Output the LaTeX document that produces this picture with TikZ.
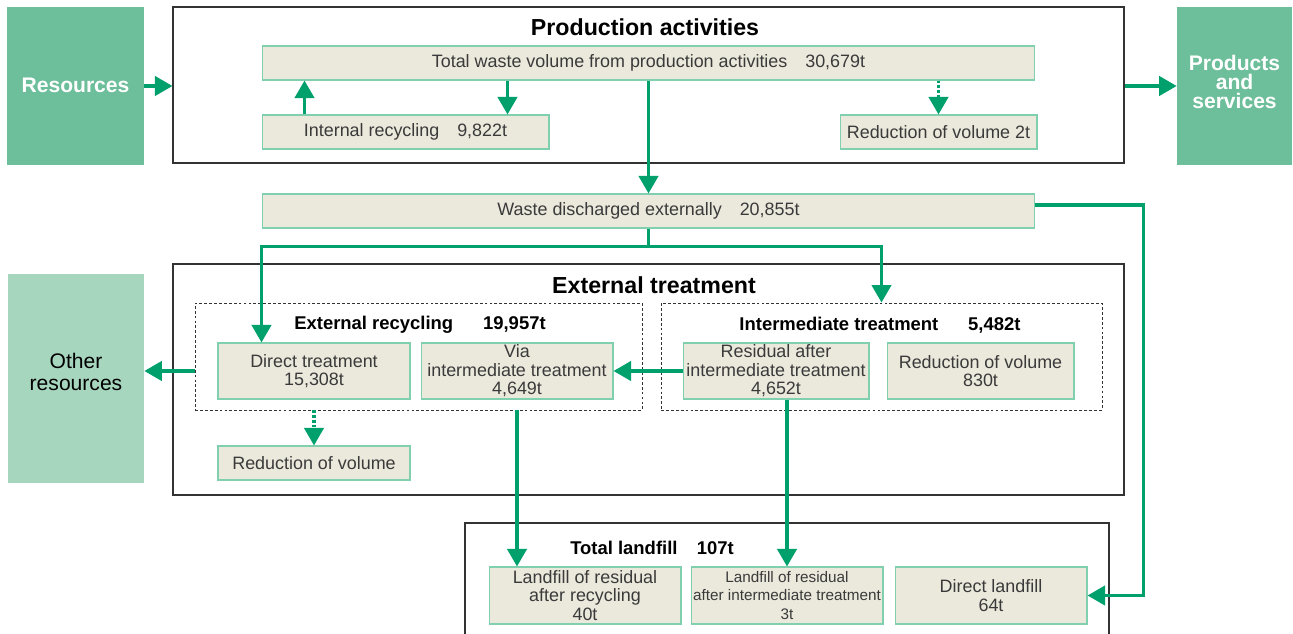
\documentclass[tikz,border=0pt]{standalone}
\usepackage{fontspec}
\setmainfont{Liberation Sans}
\usetikzlibrary{arrows.meta,calc}

\definecolor{arrgreen}{HTML}{00A06C}
\definecolor{boxfill}{HTML}{EBE8DC}
\definecolor{boxline}{HTML}{80CFAE}
\definecolor{resgreen}{HTML}{6DBE9A}
\definecolor{othergreen}{HTML}{A7D6BE}
\definecolor{framegray}{HTML}{333333}
\definecolor{txtgray}{HTML}{3A3A3A}

\begin{document}
\begin{tikzpicture}[x=0.02cm,y=-0.02cm,
	every node/.style={font=\fontsize{10.2}{10.5}\selectfont,text=txtgray,inner sep=0pt},
	box/.style={draw=boxline,fill=boxfill,line width=0.6pt,align=center,minimum height=0.68cm},
	bigbox/.style={fill=#1,minimum width=2.74cm,minimum height=3.16cm},
	bigtext/.style={align=center,font=\fontsize{12}{11}\selectfont\bfseries,text=white},
	frame/.style={draw=framegray,line width=0.7pt},
	dashbox/.style={draw=framegray,line width=0.5pt,dash pattern=on 1.6pt off 1.2pt},
	title/.style={font=\fontsize{13.2}{14}\selectfont\bfseries,text=black},
	subtitle/.style={font=\fontsize{10.5}{12}\selectfont\bfseries,text=black},
	arr/.style={draw=arrgreen,line width=1.9pt,-{Triangle[length=10pt,width=11pt]}},
	dotarr/.style={arr,dash pattern=on 1.5pt off 1.2pt}]
	\useasboundingbox (0,0) rectangle (1293,634);

	\node[bigbox=resgreen] (res) at (75.5,86) {};
	\node[bigtext] (rest) at (75.5,85) {Resources};
	\node[bigbox=resgreen,minimum width=2.3cm] (prods) at (1234.5,86) {};
	\node[bigtext] (prodst) at (1234.5,82) {Products\\and\\services};
	\node[bigbox=othergreen,minimum width=2.72cm,minimum height=4.18cm] (other) at (76,378.5) {};
	\node[align=center,font=\fontsize{12}{12}\selectfont,text=black] (othert) at (76,372) {Other\\resources};

	\node[frame,minimum width=19.02cm,minimum height=3.12cm] (prod) at (648.5,85) {};
	\node[title] (prodt) at (645,27) {Production activities};
	\node[box,minimum width=15.46cm] (total) at (648.5,63) {Total waste volume from production activities\hspace{1em}30,679t};
	\node[box,minimum width=5.74cm] (inrec) at (405.5,132) {Internal recycling\hspace{1em}9,822t};
	\node[box,minimum width=3.94cm] (redu2) at (938.5,132) {Reduction of volume 2t};

	\node[box,minimum width=15.46cm] (waste) at (648.5,211) {Waste discharged externally\hspace{1em}20,855t};

	\node[frame,minimum width=19.02cm,minimum height=4.62cm] (ext) at (648.5,379.5) {};
	\node[title] (extt) at (654,285) {External treatment};
	\node[dashbox,minimum width=8.94cm,minimum height=2.14cm] (recdash) at (418.5,356.5) {};
	\node[subtitle] (rect) at (420,325) {External recycling\hspace{17pt}19,957t};
	\node[box,minimum width=3.84cm,minimum height=1.12cm] (direct) at (314,371) {Direct treatment\\15,308t};
	\node[box,minimum width=3.84cm,minimum height=1.12cm] (via) at (517,371) {Via\\intermediate treatment\\4,649t};
	\node[box,minimum width=3.84cm] (redu) at (314,463) {Reduction of volume};
	\node[dashbox,minimum width=8.82cm,minimum height=2.14cm] (intdash) at (881.5,356.5) {};
	\node[subtitle] (intt) at (880,325) {Intermediate treatment\hspace{17pt}5,482t};
	\node[box,minimum width=3.72cm,minimum height=1.12cm] (resid) at (776,371) {Residual after\\intermediate treatment\\4,652t};
	\node[box,minimum width=3.74cm,minimum height=1.12cm] (redu830) at (980.5,371) {Reduction of volume\\830t};

	\draw[frame] (465,634) |- (1109,523) -- (1109,634);
	\node[subtitle] (lft) at (652,548) {Total landfill\hspace{11pt}107t};
	\node[box,minimum width=3.84cm,minimum height=1.14cm] (lf1) at (585,595.5) {Landfill of residual\\after recycling\\40t};
	\node[box,minimum width=3.84cm,minimum height=1.14cm,font=\fontsize{8.7}{10.5}\selectfont] (lf2) at (787,595.5) {Landfill of residual\\after intermediate treatment\\3t};
	\node[box,minimum width=3.84cm,minimum height=1.14cm] (lf3) at (991,595.5) {Direct landfill\\64t};

	\draw[arr] (res.east) -- (res.east -| prod.west);
	\draw[arr] (prod.east |- prods) -- (prods.west);
	\coordinate (up1) at ($(inrec.north west)+(43,0)$);
	\coordinate (dn1) at ($(inrec.north east)+(-42,0)$);
	\draw[arr] (up1) -- (up1 |- total.south);
	\draw[arr] (dn1 |- total.south) -- (dn1);
	\draw[dotarr] (redu2.north |- total.south) -- (redu2.north);
	\draw[arr] (total.south) -- (waste.north);

	\coordinate (split) at ($(waste.south)+(0,18)$);
	\coordinate (dtin) at ($(direct.north west)+(44,0)$);
	\draw[arr] (waste.south) -- (split) -| (dtin);
	\draw[arr] (split) -| (intdash.north);
	\coordinate (wout) at ($(waste.east)+(0,-6)$);
	\draw[arr] (wout) -- ++(108,0) |- (lf3.east);

	\draw[arr] (recdash.west |- direct) -- (other.east |- direct);
	\draw[arr] (resid.west) -- (via.east);
	\draw[dotarr] (redu.north |- recdash.south) -- (redu.north);
	\draw[arr] (via.south |- recdash.south) -- (via.south |- lf1.north);
	\draw[arr] (lf2.north |- resid.south) -- (lf2.north);
\end{tikzpicture}
\end{document}
